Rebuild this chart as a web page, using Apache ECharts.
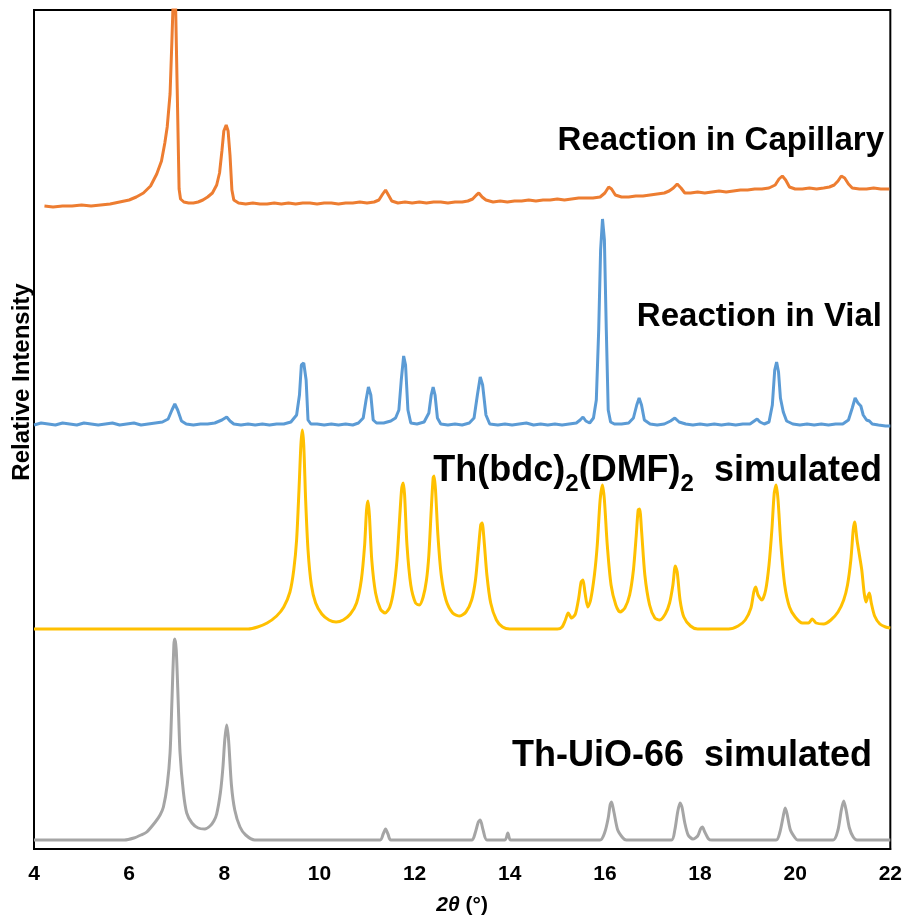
<!DOCTYPE html>
<html>
<head>
<meta charset="utf-8">
<script src="https://cdn.jsdelivr.net/npm/echarts@6/dist/echarts.min.js"></script>
<style>
  html, body { margin: 0; padding: 0; background: #fff; }
  #chart { width: 905px; height: 921px; }
</style>
</head>
<body>
<div id="chart"></div>
<script>
// Powder XRD patterns, 2θ (°) vs relative intensity (arbitrary units, own baseline = 0)
const xTicks = [4, 6, 8, 10, 12, 14, 16, 18, 20, 22];

const capillary = [
  [4.22,3],[4.4,2],[4.6,3],[4.8,3],[5.0,4],[5.2,3],[5.4,4],[5.6,5],[5.8,7],[6.0,9],
  [6.15,12],[6.3,16],[6.45,23],[6.58,35],[6.68,48],[6.75,66],[6.8,82],[6.86,115],[6.9,170],[6.93,215],
  [6.97,220],[7.01,120],[7.05,20],[7.08,10],[7.15,7],[7.25,6],[7.35,6],[7.45,7],[7.55,9],[7.65,12],
  [7.75,16],[7.84,24],[7.9,36],[7.95,58],[7.99,78],[8.04,84],[8.08,78],[8.12,54],[8.16,19],[8.2,9],
  [8.3,6],[8.45,5],[8.6,6],[8.75,5],[8.9,5],[9.05,6],[9.2,5],[9.35,6],[9.5,5],[9.65,6],
  [9.8,6],[9.95,5],[10.1,6],[10.25,6],[10.4,5],[10.55,6],[10.7,6],[10.85,7],[11.0,6],[11.15,7],
  [11.25,9],[11.33,15],[11.39,19],[11.45,14],[11.52,8],[11.65,6],[11.8,7],[11.95,6],[12.1,7],[12.25,6],
  [12.4,7],[12.55,7],[12.7,6],[12.85,7],[13.0,7],[13.12,8],[13.22,10],[13.3,14],[13.35,16],[13.42,12],
  [13.5,9],[13.65,7],[13.8,8],[13.95,7],[14.1,8],[14.25,8],[14.4,9],[14.55,8],[14.7,9],[14.85,9],
  [15.0,10],[15.15,9],[15.3,10],[15.45,11],[15.6,11],[15.75,11],[15.9,12],[16.0,16],[16.08,22],[16.14,20],
  [16.22,14],[16.35,12],[16.5,12],[16.65,13],[16.8,13],[16.95,14],[17.1,15],[17.25,16],[17.35,18],[17.44,21],
  [17.52,25],[17.6,21],[17.68,16],[17.8,16],[17.95,17],[18.1,16],[18.25,17],[18.4,18],[18.55,17],[18.7,18],
  [18.85,19],[19.0,19],[19.15,20],[19.3,20],[19.45,21],[19.58,24],[19.66,30],[19.73,33],[19.8,29],[19.88,22],
  [20.0,20],[20.15,20],[20.3,21],[20.45,20],[20.6,21],[20.72,22],[20.82,24],[20.9,28],[20.97,33],[21.04,31],
  [21.12,25],[21.2,21],[21.35,20],[21.5,20],[21.65,21],[21.8,20],[21.98,20]
];

const vial = [
  [4.0,-1],[4.15,1],[4.3,0],[4.45,-1],[4.6,1],[4.75,0],[4.9,-1],[5.05,1],[5.2,0],[5.35,-1],
  [5.5,0],[5.65,1],[5.8,-1],[5.95,0],[6.1,1],[6.25,-1],[6.4,0],[6.55,1],[6.7,2],[6.82,5],
  [6.9,14],[6.96,20],[7.02,14],[7.1,3],[7.2,0],[7.35,-1],[7.5,0],[7.65,0],[7.8,1],[7.95,4],
  [8.05,7],[8.12,3],[8.2,0],[8.35,-1],[8.5,0],[8.65,-1],[8.8,0],[8.95,-1],[9.1,0],[9.25,0],
  [9.4,2],[9.52,9],[9.58,29],[9.62,59],[9.67,61],[9.72,44],[9.76,4],[9.82,0],[9.95,0],[10.1,-1],
  [10.25,0],[10.4,-1],[10.55,0],[10.7,-1],[10.82,1],[10.92,6],[10.98,24],[11.03,37],[11.08,29],[11.13,4],
  [11.2,1],[11.35,1],[11.5,3],[11.6,6],[11.67,14],[11.72,44],[11.77,68],[11.81,59],[11.86,14],[11.92,1],
  [12.05,0],[12.2,2],[12.3,11],[12.35,29],[12.39,37],[12.43,29],[12.48,6],[12.55,0],[12.7,-1],[12.85,0],
  [13.0,-1],[13.15,1],[13.25,6],[13.32,29],[13.38,47],[13.43,39],[13.5,9],[13.58,0],[13.75,-1],[13.9,0],
  [14.05,-1],[14.2,0],[14.35,1],[14.5,-1],[14.65,0],[14.8,-1],[14.95,0],[15.1,-1],[15.25,0],[15.4,1],
  [15.48,4],[15.54,7],[15.6,3],[15.68,1],[15.76,6],[15.82,24],[15.87,94],[15.91,174],[15.95,205],[15.99,184],
  [16.03,94],[16.07,14],[16.12,2],[16.2,0],[16.35,0],[16.5,1],[16.6,6],[16.67,19],[16.72,26],[16.77,19],
  [16.83,4],[16.95,0],[17.1,-1],[17.25,0],[17.38,3],[17.47,6],[17.56,2],[17.7,0],[17.85,-1],[18.0,0],
  [18.15,-1],[18.3,0],[18.45,-1],[18.6,0],[18.75,-1],[18.9,0],[19.05,0],[19.14,3],[19.2,5],[19.26,2],
  [19.35,0],[19.45,2],[19.52,19],[19.57,54],[19.61,62],[19.65,52],[19.69,26],[19.75,12],[19.82,3],[19.95,0],
  [20.1,-1],[20.25,0],[20.4,-1],[20.55,0],[20.7,-1],[20.85,0],[21.0,0],[21.12,4],[21.2,16],[21.26,26],
  [21.32,21],[21.38,18],[21.43,9],[21.5,4],[21.56,3],[21.62,0],[21.75,-1],[21.9,-2],[22.0,-2]
];

const thBdcSim = [
  [4.0,0],[8.5,0],[8.7,2],[8.9,6],[9.1,13],[9.25,22],[9.38,37],[9.46,59],[9.52,89],[9.57,139],
  [9.61,184],[9.64,199],[9.67,184],[9.71,129],[9.76,79],[9.83,44],[9.92,26],[10.05,15],[10.2,9],[10.35,7],
  [10.5,9],[10.65,15],[10.78,26],[10.88,49],[10.95,84],[10.99,119],[11.02,128],[11.05,114],[11.1,69],[11.18,36],
  [11.28,20],[11.38,16],[11.48,22],[11.56,39],[11.63,69],[11.69,114],[11.73,141],[11.76,146],[11.79,134],[11.84,84],
  [11.92,44],[12.02,26],[12.1,24],[12.18,32],[12.25,49],[12.3,74],[12.35,119],[12.39,151],[12.41,153],[12.44,139],
  [12.49,94],[12.56,54],[12.66,29],[12.8,16],[12.95,13],[13.08,17],[13.2,29],[13.28,49],[13.34,79],[13.39,104],
  [13.42,106],[13.46,89],[13.52,54],[13.6,26],[13.72,9],[13.85,2],[14.0,0],[15.0,0],[15.1,2],[15.17,9],
  [15.23,16],[15.3,11],[15.38,15],[15.45,31],[15.5,47],[15.54,49],[15.58,37],[15.64,22],[15.7,29],[15.78,54],
  [15.84,84],[15.9,129],[15.95,144],[15.99,129],[16.05,84],[16.13,44],[16.23,24],[16.32,17],[16.42,21],[16.52,34],
  [16.6,59],[16.66,94],[16.7,119],[16.73,120],[16.77,99],[16.84,54],[16.94,24],[17.05,11],[17.15,9],[17.27,15],
  [17.36,26],[17.43,44],[17.48,63],[17.52,57],[17.58,29],[17.66,12],[17.8,3],[17.95,0],[18.6,0],[18.8,3],
  [18.95,9],[19.07,21],[19.13,37],[19.17,42],[19.22,34],[19.3,29],[19.38,39],[19.45,64],[19.51,99],[19.56,136],
  [19.6,144],[19.64,129],[19.7,84],[19.78,44],[19.88,22],[20.0,12],[20.15,6],[20.28,6],[20.36,10],[20.44,6],
  [20.6,5],[20.75,9],[20.9,17],[21.02,29],[21.1,44],[21.17,69],[21.22,99],[21.25,107],[21.3,89],[21.35,74],
  [21.4,59],[21.45,36],[21.49,27],[21.53,33],[21.56,36],[21.6,26],[21.67,13],[21.78,5],[21.9,2],[22.0,1]
];

const thUioSim = [
  [4.0,0],[5.9,0],[6.1,2],[6.25,5],[6.37,8],[6.55,18],[6.65,25],[6.72,33],[6.8,55],[6.86,87],
  [6.9,140],[6.94,195],[6.96,201],[6.99,190],[7.03,140],[7.07,87],[7.14,48],[7.21,27],[7.32,17],[7.45,12],
  [7.59,11],[7.7,14],[7.78,19],[7.84,26],[7.92,48],[7.97,72],[8.01,100],[8.05,115],[8.09,100],[8.15,55],
  [8.22,30],[8.33,13],[8.45,5],[8.64,0],[11.28,0],[11.34,6],[11.39,11],[11.44,6],[11.5,0],[13.2,0],
  [13.28,8],[13.34,18],[13.38,20],[13.44,10],[13.52,0],[13.9,0],[13.96,7],[14.02,0],[15.9,0],[16.0,8],
  [16.07,22],[16.11,35],[16.14,38],[16.19,28],[16.27,10],[16.38,2],[16.45,0],[17.4,0],[17.47,10],[17.53,28],
  [17.58,37],[17.62,33],[17.68,17],[17.75,5],[17.85,1],[17.95,4],[18.01,11],[18.05,13],[18.1,8],[18.18,1],
  [18.25,0],[19.6,0],[19.68,8],[19.75,24],[19.79,32],[19.83,26],[19.9,10],[20.0,2],[20.05,0],[20.8,0],
  [20.9,10],[20.97,30],[21.02,39],[21.07,30],[21.14,12],[21.22,3],[21.3,0],[22.0,0]
];

// vertical stacking offsets for each pattern
const offsets = { capillary: 640, vial: 425, thBdcSim: 220, thUioSim: 9 };

const shift = (pts, off) => pts.map(p => [p[0], p[1] + off]);

const labelFont = 'Liberation Sans, Arial, sans-serif';

const chart = echarts.init(document.getElementById('chart'));
chart.setOption({
  animation: false,
  backgroundColor: '#ffffff',
  grid: {
    left: 34, right: 14, top: 10, bottom: 72,
    show: true, borderColor: '#000', borderWidth: 2
  },
  xAxis: {
    type: 'value',
    min: xTicks[0], max: xTicks[xTicks.length - 1], interval: 2,
    axisLine: { show: true, lineStyle: { color: '#000', width: 2 } },
    axisTick: { show: false },
    splitLine: { show: false },
    axisLabel: {
      color: '#000', fontSize: 21, fontWeight: 'bold', fontFamily: labelFont, margin: 15,
      formatter: v => String(v)
    },
    name: '{i|2θ} (°)',
    nameLocation: 'middle',
    nameGap: 46,
    nameTextStyle: {
      color: '#000', fontSize: 21, fontWeight: 'bold', fontFamily: labelFont,
      rich: { i: { fontStyle: 'italic', fontWeight: 'bold', fontSize: 21, fontFamily: labelFont, color: '#000' } }
    }
  },
  yAxis: {
    type: 'value', min: 0, max: 839,
    axisLine: { show: true, lineStyle: { color: '#000', width: 2 } },
    axisTick: { show: false },
    axisLabel: { show: false },
    splitLine: { show: false }
  },
  series: [
    { name: 'Reaction in Capillary', type: 'line', showSymbol: false, clip: true,
      data: shift(capillary, offsets.capillary), lineStyle: { color: '#ED7D31', width: 3 } },
    { name: 'Reaction in Vial', type: 'line', showSymbol: false,
      data: shift(vial, offsets.vial), lineStyle: { color: '#5B9BD5', width: 3 } },
    { name: 'Th(bdc)2(DMF)2 simulated', type: 'line', showSymbol: false, smooth: 0.25,
      data: shift(thBdcSim, offsets.thBdcSim), lineStyle: { color: '#FFC000', width: 3 } },
    { name: 'Th-UiO-66 simulated', type: 'line', showSymbol: false, smooth: 0.25,
      data: shift(thUioSim, offsets.thUioSim), lineStyle: { color: '#A5A5A5', width: 3 } }
  ],
  graphic: [
    { type: 'text', x: 22, y: 382, rotation: Math.PI / 2, z: 100,
      style: { text: 'Relative Intensity', font: 'bold 24px ' + labelFont, fill: '#000',
               textAlign: 'center', textVerticalAlign: 'middle' } },
    { type: 'text', x: 884, y: 141, z: 100,
      style: { text: 'Reaction in Capillary', font: 'bold 33px ' + labelFont, fill: '#000',
               textAlign: 'right', textVerticalAlign: 'middle' } },
    { type: 'text', x: 882, y: 317, z: 100,
      style: { text: 'Reaction in Vial', font: 'bold 33px ' + labelFont, fill: '#000',
               textAlign: 'right', textVerticalAlign: 'middle' } },
    { type: 'text', x: 882, y: 471, z: 100,
      style: { text: 'Th(bdc){s|2}(DMF){s|2}  simulated', font: 'bold 36px ' + labelFont, fill: '#000',
               textAlign: 'right', textVerticalAlign: 'middle',
               rich: { s: { font: 'bold 24px ' + labelFont, fill: '#000', padding: [26, 0, 0, 0] } } } },
    { type: 'text', x: 872, y: 756, z: 100,
      style: { text: 'Th-UiO-66  simulated', font: 'bold 36px ' + labelFont, fill: '#000',
               textAlign: 'right', textVerticalAlign: 'middle' } }
  ]
});
</script>
</body>
</html>
